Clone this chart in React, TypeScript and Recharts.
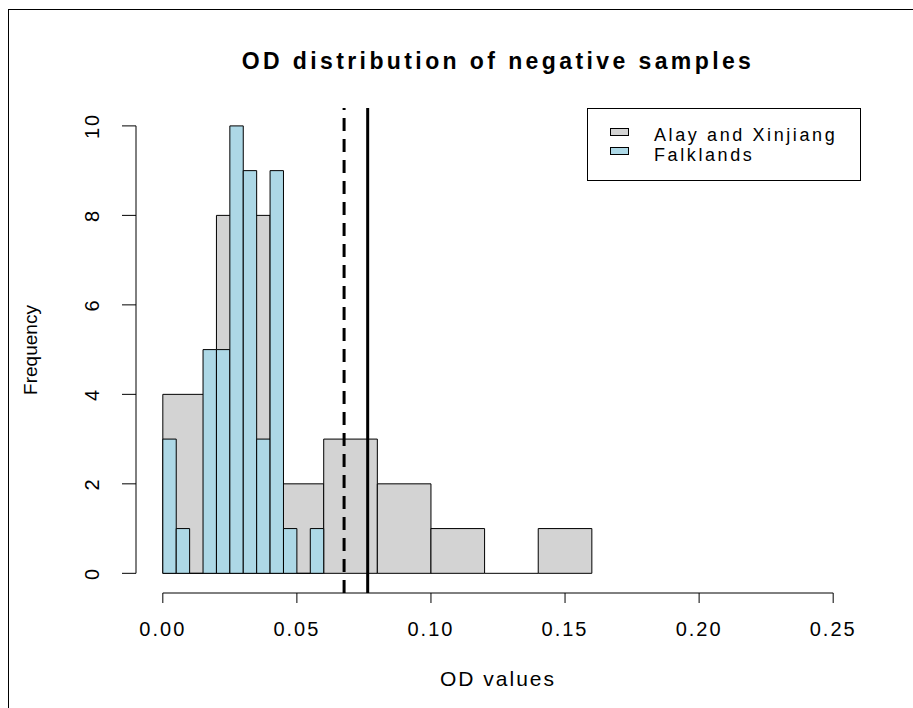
import React from 'react';
import { ComposedChart, XAxis, YAxis, ReferenceArea, ReferenceLine, Customized } from 'recharts';

const grayBreaks = [0, 0.02, 0.04, 0.06, 0.08, 0.1, 0.12, 0.14, 0.16];
const grayCounts = [4, 8, 2, 3, 2, 1, 0, 1];
const blueBreaks = [0, 0.005, 0.01, 0.015, 0.02, 0.025, 0.03, 0.035, 0.04, 0.045, 0.05, 0.055, 0.06];
const blueCounts = [3, 1, 0, 5, 5, 10, 9, 3, 9, 1, 0, 1];
const xTicks = [0, 0.05, 0.1, 0.15, 0.2, 0.25];
const yTicks = [0, 2, 4, 6, 8, 10];
const cutoffDashed = 0.0676;
const cutoffSolid = 0.0764;
const seriesNames = ['Alay and Xinjiang', 'Falklands'];
const seriesColors = ['#D3D3D3', '#ADD8E6'];
const titleText = 'OD distribution of negative samples';
const xLabel = 'OD values';
const yLabel = 'Frequency';

const FONT = '"Liberation Sans", Arial, sans-serif';
const X_DOMAIN: [number, number] = [-0.01, 0.26];
const Y_DOMAIN: [number, number] = [-0.44, 10.4];

const XTick = (props: any) => {
  const { x, y, payload } = props;
  return (
    <text x={x} y={y + 31} textAnchor="middle" fontFamily={FONT} fontSize={20} letterSpacing={2} fill="#000">
      {payload.value.toFixed(2)}
    </text>
  );
};

const YTick = (props: any) => {
  const { x, y, payload } = props;
  const bx = x - 21;
  return (
    <text x={bx} y={y} textAnchor="middle" fontFamily={FONT} fontSize={20} letterSpacing={2} fill="#000"
      transform={`rotate(-90, ${bx}, ${y})`}>
      {payload.value}
    </text>
  );
};

const Decorations = () => (
  <g>
    <text x={498} y={69} textAnchor="middle" fontFamily={FONT} fontWeight="bold" fontSize={23} letterSpacing={3.4} fill="#000">
      {titleText}
    </text>
    <text x={498} y={686} textAnchor="middle" fontFamily={FONT} fontSize={21} letterSpacing={2} fill="#000">
      {xLabel}
    </text>
    <text x={37} y={350} textAnchor="middle" fontFamily={FONT} fontSize={19} fill="#000" transform="rotate(-90, 37, 350)">
      {yLabel}
    </text>
    <rect x={587.5} y={108.5} width={273} height={72} fill="#fff" stroke="#000" strokeWidth={1} />
    {seriesNames.map((n, i) => (
      <g key={n}>
        <rect x={610.5} y={128.5 + i * 19} width={18} height={7} fill={seriesColors[i]} stroke="#000" strokeWidth={1} />
        <text x={654} y={141 + i * 20} fontFamily={FONT} fontSize={18} letterSpacing={2.6} fill="#000">{n}</text>
      </g>
    ))}
  </g>
);

const renderHist = (breaks: number[], counts: number[], color: string, key: string) =>
  counts.map((c, i) =>
    c > 0 ? (
      <ReferenceArea key={`${key}${i}`} x1={breaks[i]} x2={breaks[i + 1]} y1={0} y2={c}
        fill={color} fillOpacity={1} stroke="#000" strokeWidth={1} ifOverflow="visible" />
    ) : (
      <ReferenceLine key={`${key}${i}`} segment={[{ x: breaks[i], y: 0 }, { x: breaks[i + 1], y: 0 }]}
        stroke="#000" strokeWidth={1} ifOverflow="visible" />
    )
  );

export default function App() {
  return (
    <div style={{ position: 'relative', width: 913, height: 708, background: '#fff' }}>
      <style>{'html,body{margin:0;padding:0;overflow:hidden;background:#fff}'}</style>
      <div style={{ position: 'absolute', left: 8, top: 9, width: 905, height: 699, borderLeft: '1px solid #000', borderTop: '1px solid #000', boxSizing: 'border-box' }} />
      <div style={{ position: 'absolute', left: 0, top: 0 }}>
        <ComposedChart width={913} height={708} margin={{ top: 108, right: 53, bottom: 65, left: 76 }} data={[]}>
          <XAxis type="number" dataKey="x" domain={X_DOMAIN} ticks={xTicks} allowDataOverflow
            axisLine={false} tickLine={{ stroke: '#000' }} tickSize={10} tickMargin={2} height={50} tick={<XTick />} interval={0} />
          <YAxis type="number" domain={Y_DOMAIN} ticks={yTicks} allowDataOverflow
            axisLine={false} tickLine={{ stroke: '#000' }} tickSize={14} tickMargin={2} width={60} tick={<YTick />} interval={0} />
          {renderHist(grayBreaks, grayCounts, seriesColors[0], 'g')}
          {renderHist(blueBreaks, blueCounts, seriesColors[1], 'b')}
          <ReferenceLine segment={[{ x: xTicks[0], y: Y_DOMAIN[0] }, { x: xTicks[xTicks.length - 1], y: Y_DOMAIN[0] }]}
            stroke="#000" strokeWidth={1} ifOverflow="visible" />
          <ReferenceLine segment={[{ x: X_DOMAIN[0], y: yTicks[0] }, { x: X_DOMAIN[0], y: yTicks[yTicks.length - 1] }]}
            stroke="#000" strokeWidth={1} ifOverflow="visible" />
          <ReferenceLine x={cutoffDashed} stroke="#000" strokeWidth={3} strokeDasharray="13 8" ifOverflow="visible" />
          <ReferenceLine x={cutoffSolid} stroke="#000" strokeWidth={3} ifOverflow="visible" />
          <Customized component={Decorations} />
        </ComposedChart>
      </div>
    </div>
  );
}
